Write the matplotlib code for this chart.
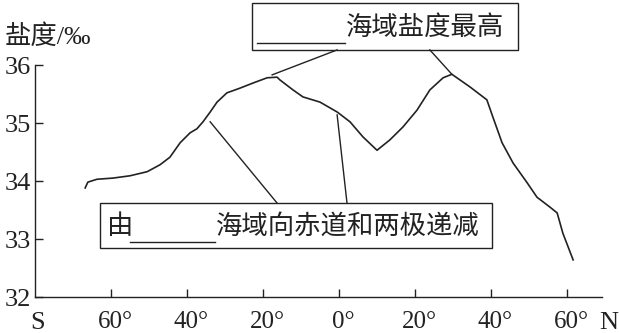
import matplotlib
matplotlib.use("Agg")
import matplotlib.pyplot as plt
from matplotlib.patches import Rectangle
from matplotlib.transforms import ScaledTranslation

plt.rcParams['font.family'] = ['Liberation Serif', 'Noto Sans CJK SC']

# Salinity profile (S negative, N positive)
latitude = [-66.8, -66.1, -63.7, -59.5, -55.0, -50.5, -47.1, -44.5, -41.8, -39.2,
            -37.4, -35.8, -33.9, -32.1, -29.5, -26.1, -22.6, -18.9, -16.3, -15.5,
            -12.1, -9.5, -5.0, -0.5, 2.9, 6.3, 10.0, 13.4, 16.8, 20.5,
            23.9, 27.4, 29.7, 34.5, 38.9, 40.5, 42.9, 45.8, 49.5, 52.1,
            55.5, 57.4, 58.9, 61.6]
salinity = [33.88, 33.98, 34.03, 34.05, 34.09, 34.16, 34.28, 34.41, 34.66, 34.83,
            34.90, 35.02, 35.19, 35.36, 35.52, 35.60, 35.69, 35.78, 35.79, 35.74,
            35.57, 35.45, 35.36, 35.19, 35.02, 34.76, 34.53, 34.71, 34.93, 35.22,
            35.57, 35.78, 35.84, 35.62, 35.40, 35.10, 34.66, 34.31, 33.97, 33.72,
            33.55, 33.45, 33.10, 32.64]

x_ticks = [-60, -40, -20, 0, 20, 40, 60]
x_labels = ["60°", "40°", "20°", "0°", "20°", "40°", "60°"]
y_ticks = [32, 33, 34, 35, 36]

top_text = "海域盐度最高"
bottom_head = "由"
bottom_text = "海域向赤道和两极递减"

ink = "#222222"

fig = plt.figure(figsize=(6.19, 3.33), dpi=100)
ax = fig.add_axes([35 / 619, 36 / 333, 567 / 619, 232 / 333])
ax.set_xlim(-80, 69.2)
ax.set_ylim(32, 36)

ax.plot(latitude, salinity, color=ink, lw=1.2, clip_on=False)

for side in ["top", "right"]:
    ax.spines[side].set_visible(False)
for side in ["left", "bottom"]:
    ax.spines[side].set_linewidth(1.0)
    ax.spines[side].set_color(ink)

ax.set_xticks(x_ticks)
ax.set_xticklabels(x_labels)
ax.set_yticks(y_ticks)
ax.tick_params(axis="both", direction="in", length=6, width=1.0, color=ink, labelcolor=ink)
ax.tick_params(axis="x", labelsize=18, pad=10)
ax.tick_params(axis="y", labelsize=19, pad=3)
shift = ScaledTranslation(4 / 100, 0, fig.dpi_scale_trans)
for lab in ax.get_xticklabels():
    lab.set_transform(lab.get_transform() + shift)

ax.text(-79.2, 31.55, "S", fontsize=19, ha="center", va="center", color=ink, clip_on=False)
ax.text(71.0, 31.55, "N", fontsize=19, ha="center", va="center", color=ink, clip_on=False)
fig.text(5 / 619, 1 - 37 / 333, "盐度/‰", fontsize=19, ha="left", va="center", color=ink)

# top callout
ax.add_patch(Rectangle((-22.9, 36.26), 70.0, 0.81, fill=False, lw=1.0, ec=ink, clip_on=False))
ax.plot([-21.6, 1.6], [36.38, 36.38], color=ink, lw=1.0, clip_on=False)
ax.text(1.8, 36.64, top_text, fontsize=19, ha="left", va="center", color=ink, clip_on=False)
ax.plot([-0.5, -17.6], [36.26, 35.83], color=ink, lw=1.0, clip_on=False)
ax.plot([23.9, 29.7], [36.26, 35.84], color=ink, lw=1.0, clip_on=False)

# bottom callout
ax.add_patch(Rectangle((-62.9, 32.84), 103.2, 0.78, fill=False, lw=1.0, ec=ink, clip_on=False))
ax.text(-61.0, 33.21, bottom_head, fontsize=19, ha="left", va="center", color=ink)
ax.plot([-55.0, -32.6], [32.95, 32.95], color=ink, lw=1.0)
ax.text(-32.3, 33.21, bottom_text, fontsize=19, ha="left", va="center", color=ink)
ax.plot([-33.9, -16.3], [35.02, 33.62], color=ink, lw=1.0)
ax.plot([-0.5, 2.1], [35.14, 33.62], color=ink, lw=1.0)

fig.savefig("out.png", dpi=100)
